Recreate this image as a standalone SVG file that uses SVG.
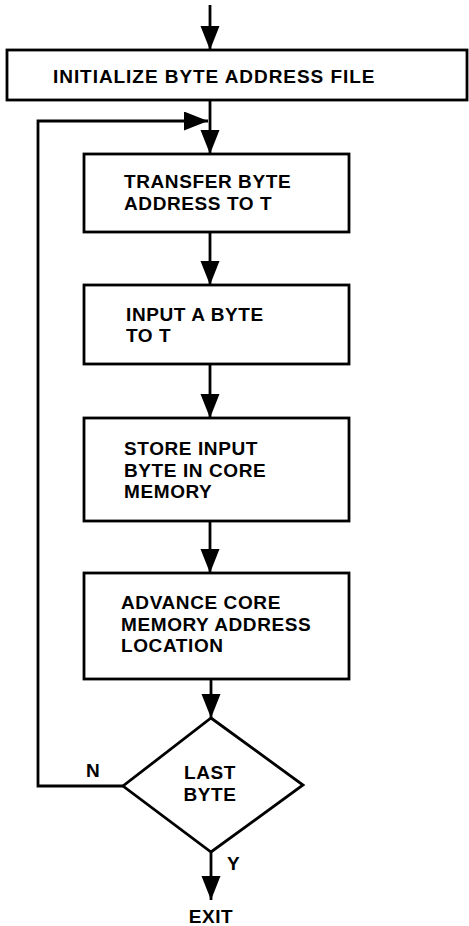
<svg xmlns="http://www.w3.org/2000/svg" width="469" height="926" viewBox="0 0 469 926">
<style>
.box{fill:#fff;stroke:#000;stroke-width:2.8}
.ln{fill:none;stroke:#000;stroke-width:2.8}
.t{font-family:"Liberation Sans",Arial,Helvetica,sans-serif;font-weight:bold;font-size:19px;fill:#000;letter-spacing:0.6px}
</style>
<defs>
<marker id="ah" markerUnits="userSpaceOnUse" markerWidth="26" markerHeight="20" refX="24" refY="9.5" orient="auto">
<path d="M0,0 L24,9.5 L0,19 Z" fill="#000"/>
</marker>
</defs>
<rect width="469" height="926" fill="#fff"/>
<g id="connectors">
<line class="ln" x1="210" y1="5" x2="210" y2="50" marker-end="url(#ah)"/>
<line class="ln" x1="210" y1="100" x2="210" y2="154" marker-end="url(#ah)"/>
<polyline class="ln" points="123,786 38,786 38,121 208,121" marker-end="url(#ah)"/>
<line class="ln" x1="210" y1="232" x2="210" y2="285" marker-end="url(#ah)"/>
<line class="ln" x1="210" y1="364" x2="210" y2="418" marker-end="url(#ah)"/>
<line class="ln" x1="210" y1="521" x2="210" y2="573" marker-end="url(#ah)"/>
<line class="ln" x1="211" y1="679" x2="211" y2="718" marker-end="url(#ah)"/>
<line class="ln" x1="211" y1="852" x2="211" y2="900" marker-end="url(#ah)"/>
<text class="t" x="86" y="777">N</text>
<text class="t" x="227" y="870">Y</text>
</g>
<g id="init">
<rect class="box" x="7" y="50" width="460" height="50"/>
<text class="t" x="53" y="83" textLength="322" lengthAdjust="spacing">INITIALIZE BYTE ADDRESS FILE</text>
</g>
<g id="transfer">
<rect class="box" x="84" y="154" width="265" height="78"/>
<text class="t" x="124" y="188">TRANSFER BYTE</text>
<text class="t" x="124" y="210">ADDRESS TO T</text>
</g>
<g id="input">
<rect class="box" x="84" y="285" width="265" height="79"/>
<text class="t" x="126" y="321">INPUT A BYTE</text>
<text class="t" x="126" y="342">TO T</text>
</g>
<g id="store">
<rect class="box" x="84" y="418" width="265" height="103"/>
<text class="t" x="124" y="455">STORE INPUT</text>
<text class="t" x="124" y="477">BYTE IN CORE</text>
<text class="t" x="124" y="498">MEMORY</text>
</g>
<g id="advance">
<rect class="box" x="84" y="573" width="265" height="106"/>
<text class="t" x="121" y="609">ADVANCE CORE</text>
<text class="t" x="121" y="631">MEMORY ADDRESS</text>
<text class="t" x="121" y="652">LOCATION</text>
</g>
<g id="decision">
<polygon class="box" points="211,718 303,785 211,852 123,786"/>
<text class="t" x="210" y="779" text-anchor="middle">LAST</text>
<text class="t" x="210" y="801" text-anchor="middle">BYTE</text>
</g>
<g id="exit">
<text class="t" x="211" y="923" text-anchor="middle">EXIT</text>
</g>
</svg>
